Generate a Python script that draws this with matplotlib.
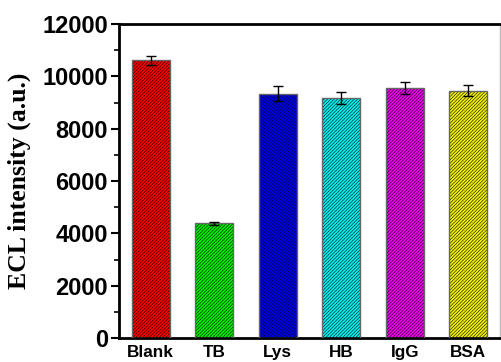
import matplotlib
matplotlib.use("Agg")
import matplotlib.pyplot as plt
from matplotlib.ticker import MultipleLocator
import numpy as np

categories = ["Blank", "TB", "Lys", "HB", "IgG", "BSA"]
values = [10620, 4380, 9340, 9160, 9570, 9450]
errors = [170, 45, 290, 230, 230, 210]
colors = ["#ff0000", "#00f000", "#0000f0", "#00f0f0", "#f000f0", "#f0f000"]
yticks = [0, 2000, 4000, 6000, 8000, 10000, 12000]

plt.rcParams['hatch.linewidth'] = 0.4

fig = plt.figure(figsize=(5.01, 3.62), dpi=100)
ax = fig.add_axes([119/501, 1-338/362, (500-119)/501, (338-24)/362])

x = np.arange(len(categories))
ax.bar(x, values, width=0.6, color=colors, edgecolor="black", hatch="/" * 10, linewidth=0, zorder=2)
ax.bar(x, values, width=0.6, fill=False, edgecolor="#666666", linewidth=1.0, zorder=3)
ax.errorbar(x, values, yerr=errors, fmt="none", ecolor="black", elinewidth=1.0, capsize=3.5, capthick=1.0, zorder=4)

ax.set_xlim(-0.5, 5.5)
ax.set_ylim(0, 12000)
ax.set_yticks(yticks)
ax.yaxis.set_minor_locator(MultipleLocator(1000))
ax.set_xticks(x)
ax.set_xticklabels(categories, fontdict=dict(family="Liberation Sans", weight="bold", size=12.3))
ax.set_yticklabels([str(v) for v in yticks], fontdict=dict(family="Liberation Sans", weight="bold", size=17))
ax.tick_params(axis="x", length=0, pad=5)
ax.tick_params(axis="y", which="major", length=6, width=1.5, direction="out", pad=2)
ax.tick_params(axis="y", which="minor", length=3.5, width=1.2, direction="out")

for s in ["left", "bottom", "top"]:
    ax.spines[s].set_linewidth(2)
ax.spines["right"].set_linewidth(1)
ax.spines["right"].set_color("#bbbbbb")

ax.set_ylabel("ECL intensity (a.u.)", family="Liberation Serif", weight="bold", size=18.5)
ax.yaxis.set_label_coords((31 - 119) / 381, 0.5)

fig.savefig("out.png", dpi=100)
